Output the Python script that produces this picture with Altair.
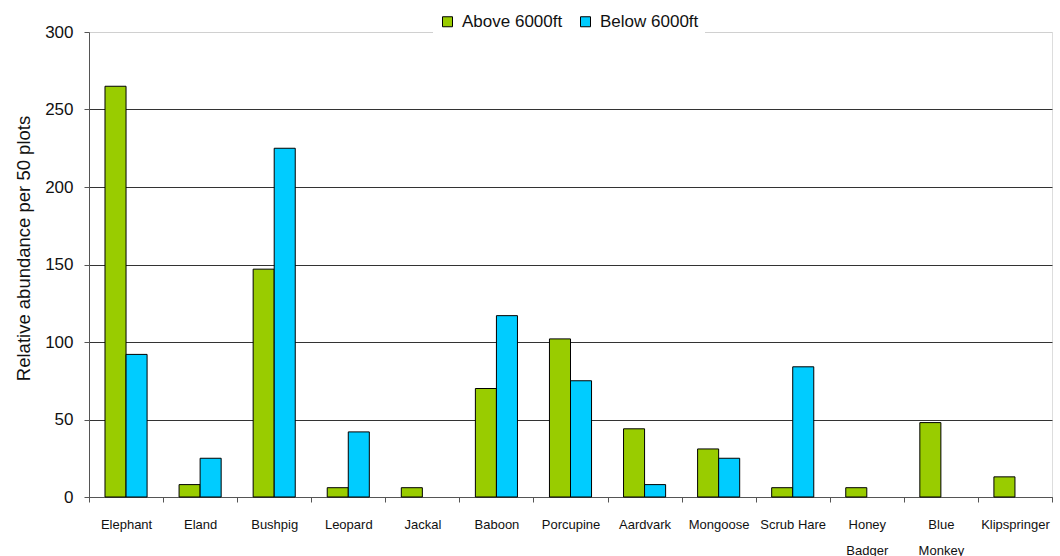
import altair as alt
import pandas as pd

categories = ["Elephant", "Eland", "Bushpig", "Leopard", "Jackal", "Baboon",
              "Porcupine", "Aardvark", "Mongoose", "Scrub Hare", "Honey Badger",
              "Blue Monkey", "Klipspringer"]
above = [265, 8, 147, 6, 6, 70, 102, 44, 31, 6, 6, 48, 13]
below = [92, 25, 225, 42, None, 117, 75, 8, 25, 84, None, None, None]
series = ["Above 6000ft", "Below 6000ft"]
colors = ["#99CC00", "#00CCFF"]
y_ticks = [0, 50, 100, 150, 200, 250, 300]

rows = []
for c, a, b in zip(categories, above, below):
    if a is not None:
        rows.append({"Animal": c, "Series": series[0], "Value": a})
    if b is not None:
        rows.append({"Animal": c, "Series": series[1], "Value": b})
df = pd.DataFrame(rows)

FONT = "Liberation Sans"

label_expr = ("datum.value == 'Honey Badger' || datum.value == 'Blue Monkey'"
              " ? split(datum.value, ' ') : datum.value")

chart = alt.Chart(df).mark_bar(stroke="black", strokeWidth=1).encode(
    x=alt.X("Animal:N", sort=categories,
            scale=alt.Scale(paddingInner=0, paddingOuter=0),
            axis=alt.Axis(title=None, tickBand="extent", labelAngle=0,
                          labelExpr=label_expr, labelFont=FONT, labelFontSize=13,
                          labelColor="#111", labelBaseline="top",
                          labelLineHeight=26, labelPadding=16, tickSize=5,
                          tickColor="#555", domainColor="#555", grid=False)),
    xOffset=alt.XOffset("Series:N", sort=series,
                        scale=alt.Scale(paddingOuter=0.76, paddingInner=0)),
    y=alt.Y("Value:Q",
            scale=alt.Scale(domain=[0, 300], nice=False),
            axis=alt.Axis(values=y_ticks, title="Relative abundance per 50 plots",
                          titleFont=FONT, titleFontSize=18.5, titleFontWeight="normal",
                          titleColor="#111", titleY=216, titleX=-66,
                          titleBaseline="middle",
                          labelFont=FONT, labelFontSize=17, labelColor="#111",
                          labelPadding=11, tickSize=5, tickColor="#555",
                          domainColor="#555",
                          gridColor={"condition": {"test": "datum.value === 300",
                                                   "value": "#d0d0d0"},
                                     "value": "#333333"},
                          gridWidth=1)),
    color=alt.Color("Series:N",
                    scale=alt.Scale(domain=series, range=colors),
                    legend=alt.Legend(title=None, orient="none", legendX=344,
                                      legendY=-25, direction="horizontal",
                                      fillColor="white", padding=6,
                                      symbolType="square", symbolSize=100,
                                      symbolStrokeColor="black",
                                      symbolStrokeWidth=1, labelFont=FONT,
                                      labelFontSize=17, labelColor="#111",
                                      labelOffset=6, columnPadding=14)),
).properties(
    width=963, height=465,
    autosize=alt.AutoSizeParams(type="none"),
    padding={"left": 89, "top": 32, "right": 8, "bottom": 59},
).configure_view(strokeWidth=0).configure(background="white")

chart.save("out.html", embed_options={"renderer": "svg", "actions": False})
